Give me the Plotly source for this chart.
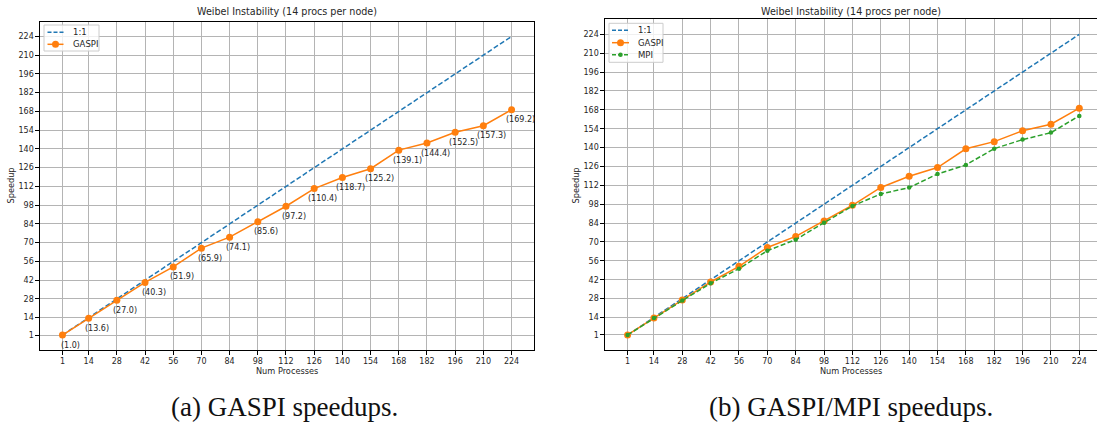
import plotly.graph_objects as go

# Process counts (x) and measured speedups
procs = [1, 14, 28, 42, 56, 70, 84, 98, 112, 126, 140, 154, 168, 182, 196, 210, 224]
gaspi = [1.0, 13.6, 27.0, 40.3, 51.9, 65.9, 74.1, 85.6, 97.2, 110.4, 118.7, 125.2,
         139.1, 144.4, 152.5, 157.3, 169.2]
mpi = [1.0, 13.5, 26.5, 39.3, 50.2, 63.5, 71.7, 84.3, 96.7, 105.6, 110.3, 120.4,
       127.1, 139.2, 145.9, 151.1, 163.5]
tick_vals = procs
tick_text = [str(v) for v in procs]

title_text = "Weibel Instability (14 procs per node)"
captions = ["(a) GASPI speedups.", "(b) GASPI/MPI speedups."]

BLUE, ORANGE, GREEN = "#1f77b4", "#ff7f0e", "#2ca02c"
W, H = 1097, 424
TXT = "#262626"
FONT = "DejaVu Sans"
DASH = "5px,2.4px"

fig = go.Figure()

# ---- panel (a) ----
fig.add_trace(go.Scatter(x=procs, y=procs, mode="lines", name="1:1",
                         line=dict(color=BLUE, width=1.5, dash=DASH),
                         xaxis="x", yaxis="y", showlegend=False))
fig.add_trace(go.Scatter(x=procs, y=gaspi, mode="lines+markers", name="GASPI",
                         line=dict(color=ORANGE, width=1.5),
                         marker=dict(color=ORANGE, size=7),
                         xaxis="x", yaxis="y", showlegend=False))

# ---- panel (b) ----
fig.add_trace(go.Scatter(x=procs, y=procs, mode="lines", name="1:1",
                         line=dict(color=BLUE, width=1.5, dash=DASH),
                         xaxis="x2", yaxis="y2", showlegend=False))
fig.add_trace(go.Scatter(x=procs, y=gaspi, mode="lines+markers", name="GASPI",
                         line=dict(color=ORANGE, width=1.5),
                         marker=dict(color=ORANGE, size=7),
                         xaxis="x2", yaxis="y2", showlegend=False))
fig.add_trace(go.Scatter(x=procs, y=mpi, mode="lines+markers", name="MPI",
                         line=dict(color=GREEN, width=1.5, dash=DASH),
                         marker=dict(color=GREEN, size=4.5),
                         xaxis="x2", yaxis="y2", showlegend=False))

annotations = []
# value labels for the GASPI points
for x, v in zip(procs, gaspi):
    annotations.append(dict(x=x, y=v, xref="x", yref="y", text=f"({v:.1f})",
                            showarrow=False, xshift=8.5, yshift=-10,
                            xanchor="center", yanchor="middle",
                            font=dict(family=FONT, size=8, color=TXT)))

# pixel -> paper helpers
px = lambda p: p / W
py = lambda p: 1 - p / H

axis_common = dict(
    showgrid=True, gridcolor="#b4b4b4", gridwidth=1.2,
    showline=True, linecolor="black", linewidth=1.2,
    ticks="outside", ticklen=3.5, tickwidth=1, tickcolor="black",
    tickfont=dict(family=FONT, size=8, color=TXT),
    zeroline=False, tickmode="array", tickvals=tick_vals, ticktext=tick_text,
)

fig.update_layout(
    width=W, height=H,
    margin=dict(l=0, r=0, t=0, b=0),
    paper_bgcolor="white", plot_bgcolor="white",
    xaxis=dict(domain=[px(40), px(534)], range=[-10.15, 235.15], anchor="y",
               mirror=True, **axis_common),
    yaxis=dict(domain=[py(350), py(21.5)], range=[-10.15, 235.15], anchor="x",
               mirror=True, **axis_common),
    xaxis2=dict(domain=[px(605), 1.0], range=[-10.15, 232.74], anchor="y2",
                mirror=True, **axis_common),
    yaxis2=dict(domain=[py(350), py(19.3)], range=[-10.15, 235.15], anchor="x2",
                mirror=False, **axis_common),
)

shapes = []


def text_at(x, y, text, size, family=FONT, color=TXT, angle=0, xanchor="center"):
    annotations.append(dict(x=px(x), y=py(y), xref="paper", yref="paper",
                            text=text, showarrow=False, textangle=angle,
                            xanchor=xanchor, yanchor="middle",
                            font=dict(family=family, size=size, color=color)))


def legend(x0, y0, x1, y1, entries, xline0, xline1, xtext):
    shapes.append(dict(type="rect", xref="paper", yref="paper",
                       x0=px(x0), x1=px(x1), y0=py(y1), y1=py(y0),
                       line=dict(color="#cccccc", width=1),
                       fillcolor="rgba(255,255,255,0.8)", layer="above"))
    for (label, color, dash, msize), yy in entries:
        shapes.append(dict(type="line", xref="paper", yref="paper",
                           x0=px(xline0), x1=px(xline1), y0=py(yy), y1=py(yy),
                           line=dict(color=color, width=1.5, dash=dash),
                           layer="above"))
        if msize:
            xm = (xline0 + xline1) / 2
            r = msize / 2
            shapes.append(dict(type="circle", xref="paper", yref="paper",
                               x0=px(xm - r), x1=px(xm + r),
                               y0=py(yy + r), y1=py(yy - r),
                               fillcolor=color, line=dict(color=color, width=0),
                               layer="above"))
        text_at(xtext, yy, label, 8.5, xanchor="left")


legend(44, 25, 99, 51,
       [(("1:1", BLUE, "4px,2px", 0), 32.3), (("GASPI", ORANGE, "solid", 7), 44.3)],
       47.5, 63.5, 71)
legend(609, 23.3, 663, 62.3,
       [(("1:1", BLUE, "4px,2px", 0), 30.3), (("GASPI", ORANGE, "solid", 7), 42.7),
        (("MPI", GREEN, "4px,2px", 4.5), 54.7)],
       612, 629, 636)

# titles, axis titles and captions
for cx, lx in [(287, 10), (851, 575)]:
    text_at(cx, 12, title_text, 9.6)
    text_at(cx, 371, "Num Processes", 8.2)
    text_at(lx, 185.5, "Speedup", 8.2, angle=-90)

for cx, cap in zip([284, 851], captions):
    text_at(cx, 407, cap, 27, family="Liberation Serif", color="#111")

fig.update_layout(annotations=annotations, shapes=shapes)
fig.write_html("out.html")
